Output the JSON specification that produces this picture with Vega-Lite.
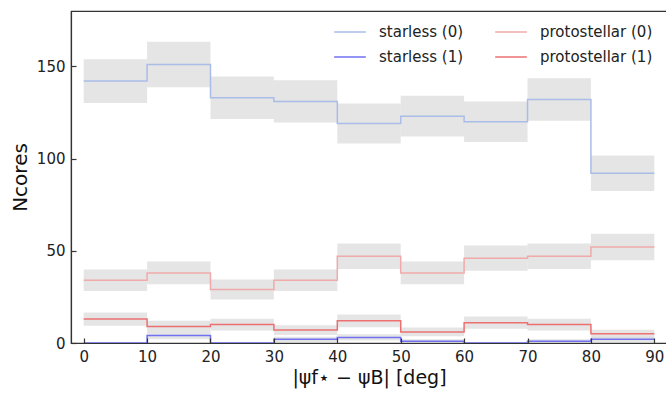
{
  "$schema": "https://vega.github.io/schema/vega-lite/v6.json",
  "width": 596,
  "height": 332,
  "autosize": {"type": "none"},
  "padding": {"left": 71, "top": 11, "right": 0, "bottom": 52},
  "background": "white",
  "config": {
    "font": "DejaVu Sans",
    "view": {"stroke": "#333333", "strokeWidth": 1.2}
  },
  "data": {
    "values": [
      {"s": "starless (0)", "x0": 0, "x1": 10, "n": 142, "lo": 130.1, "hi": 153.9},
      {"s": "starless (0)", "x0": 10, "x1": 20, "n": 151, "lo": 138.7, "hi": 163.3},
      {"s": "starless (0)", "x0": 20, "x1": 30, "n": 133, "lo": 121.5, "hi": 144.5},
      {"s": "starless (0)", "x0": 30, "x1": 40, "n": 131, "lo": 119.6, "hi": 142.4},
      {"s": "starless (0)", "x0": 40, "x1": 50, "n": 119, "lo": 108.1, "hi": 129.9},
      {"s": "starless (0)", "x0": 50, "x1": 60, "n": 123, "lo": 111.9, "hi": 134.1},
      {"s": "starless (0)", "x0": 60, "x1": 70, "n": 120, "lo": 109.0, "hi": 131.0},
      {"s": "starless (0)", "x0": 70, "x1": 80, "n": 132, "lo": 120.5, "hi": 143.5},
      {"s": "starless (0)", "x0": 80, "x1": 90, "n": 92, "lo": 82.4, "hi": 101.6},
      {"s": "starless (1)", "x0": 0, "x1": 10, "n": 0, "lo": 0, "hi": 0},
      {"s": "starless (1)", "x0": 10, "x1": 20, "n": 4, "lo": 2, "hi": 6},
      {"s": "starless (1)", "x0": 20, "x1": 30, "n": 0, "lo": 0, "hi": 0},
      {"s": "starless (1)", "x0": 30, "x1": 40, "n": 2, "lo": 0.6, "hi": 3.4},
      {"s": "starless (1)", "x0": 40, "x1": 50, "n": 3, "lo": 1.3, "hi": 4.7},
      {"s": "starless (1)", "x0": 50, "x1": 60, "n": 1, "lo": 0, "hi": 2},
      {"s": "starless (1)", "x0": 60, "x1": 70, "n": 0, "lo": 0, "hi": 0},
      {"s": "starless (1)", "x0": 70, "x1": 80, "n": 1, "lo": 0, "hi": 2},
      {"s": "starless (1)", "x0": 80, "x1": 90, "n": 2, "lo": 0.6, "hi": 3.4},
      {"s": "protostellar (0)", "x0": 0, "x1": 10, "n": 34, "lo": 28.2, "hi": 39.8},
      {"s": "protostellar (0)", "x0": 10, "x1": 20, "n": 38, "lo": 31.8, "hi": 44.2},
      {"s": "protostellar (0)", "x0": 20, "x1": 30, "n": 29, "lo": 23.6, "hi": 34.4},
      {"s": "protostellar (0)", "x0": 30, "x1": 40, "n": 34, "lo": 28.2, "hi": 39.8},
      {"s": "protostellar (0)", "x0": 40, "x1": 50, "n": 47, "lo": 40.1, "hi": 53.9},
      {"s": "protostellar (0)", "x0": 50, "x1": 60, "n": 38, "lo": 31.8, "hi": 44.2},
      {"s": "protostellar (0)", "x0": 60, "x1": 70, "n": 46, "lo": 39.2, "hi": 52.8},
      {"s": "protostellar (0)", "x0": 70, "x1": 80, "n": 47, "lo": 40.1, "hi": 53.9},
      {"s": "protostellar (0)", "x0": 80, "x1": 90, "n": 52, "lo": 44.8, "hi": 59.2},
      {"s": "protostellar (1)", "x0": 0, "x1": 10, "n": 13, "lo": 9.4, "hi": 16.6},
      {"s": "protostellar (1)", "x0": 10, "x1": 20, "n": 9, "lo": 6, "hi": 12},
      {"s": "protostellar (1)", "x0": 20, "x1": 30, "n": 10, "lo": 6.8, "hi": 13.2},
      {"s": "protostellar (1)", "x0": 30, "x1": 40, "n": 7, "lo": 4.4, "hi": 9.6},
      {"s": "protostellar (1)", "x0": 40, "x1": 50, "n": 12, "lo": 8.5, "hi": 15.5},
      {"s": "protostellar (1)", "x0": 50, "x1": 60, "n": 6, "lo": 3.6, "hi": 8.4},
      {"s": "protostellar (1)", "x0": 60, "x1": 70, "n": 11, "lo": 7.7, "hi": 14.3},
      {"s": "protostellar (1)", "x0": 70, "x1": 80, "n": 10, "lo": 6.8, "hi": 13.2},
      {"s": "protostellar (1)", "x0": 80, "x1": 90, "n": 5, "lo": 2.8, "hi": 7.2}
    ]
  },
  "layer": [
    {
      "mark": {"type": "rect", "fill": "#d0d0d0", "opacity": 0.55},
      "encoding": {
        "x": {"field": "x0", "type": "quantitative",
          "scale": {"domain": [-2, 92], "nice": false, "zero": false},
          "axis": {
            "values": [0, 10, 20, 30, 40, 50, 60, 70, 80, 90],
            "domain": true, "domainColor": "#333333", "domainWidth": 1.2, "zindex": 1, "grid": false,
            "tickSize": -5, "tickColor": "#333333", "tickWidth": 1.2,
            "labelFontSize": 15, "labelColor": "#222222", "labelPadding": 11,
            "title": "|ψf⋆ − ψB| [deg]",
            "titleFontSize": 19, "titleFontWeight": "normal", "titleColor": "#111111", "titlePadding": 4
          }},
        "x2": {"field": "x1"},
        "y": {"field": "lo", "type": "quantitative",
          "scale": {"domain": [0, 180], "nice": false},
          "axis": {
            "values": [0, 50, 100, 150],
            "domain": true, "domainColor": "#333333", "domainWidth": 1.2, "zindex": 1, "grid": false,
            "tickSize": -5, "tickColor": "#333333", "tickWidth": 1.2,
            "labelFontSize": 15, "labelColor": "#222222", "labelPadding": 11,
            "title": "Ncores",
            "titleFontSize": 20, "titleFontWeight": "normal", "titleColor": "#111111", "titlePadding": 6
          }},
        "y2": {"field": "hi"}
      }
    },
    {
      "transform": [{"fold": ["x0", "x1"], "as": ["edge", "x"]}],
      "mark": {"type": "line", "strokeWidth": 1.5},
      "encoding": {
        "x": {"field": "x", "type": "quantitative"},
        "y": {"field": "n", "type": "quantitative"},
        "color": {"field": "s", "type": "nominal",
          "scale": {
            "domain": ["starless (0)", "starless (1)", "protostellar (0)", "protostellar (1)"],
            "range": ["#a9bde8", "#7070f0", "#f0aaaa", "#ec7070"]
          },
          "legend": {
            "title": null, "orient": "none", "legendX": 262, "legendY": 4,
            "columns": 2, "gridAlign": "each", "symbolType": "stroke", "symbolSize": 1000, "symbolStrokeWidth": 1.5,
            "labelFontSize": 15, "labelColor": "#222222", "labelOffset": 12,
            "columnPadding": 28, "rowPadding": -2.5
          }},
        "order": [{"field": "x", "type": "quantitative"}, {"field": "edge", "sort": "descending"}]
      }
    }
  ]
}
